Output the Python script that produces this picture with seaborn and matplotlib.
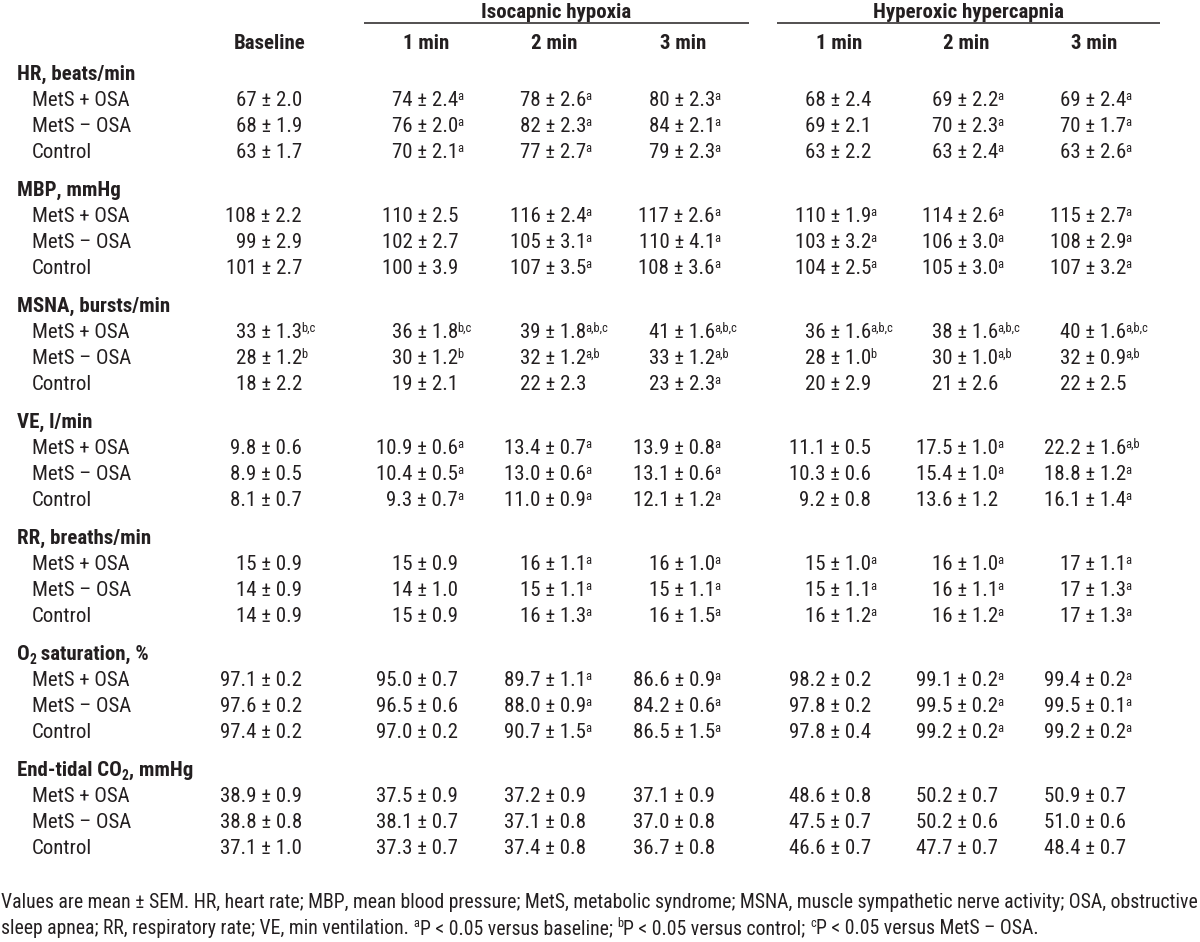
import matplotlib
matplotlib.use("Agg")
import matplotlib.pyplot as plt
import seaborn as sns
from matplotlib import font_manager

# column and row labels
group_labels = ["Isocapnic hypoxia", "Hyperoxic hypercapnia"]
group_cols = [(1, 3), (4, 6)]
col_labels = ["Baseline", "1 min", "2 min", "3 min", "1 min", "2 min", "3 min"]
row_labels = ["MetS + OSA", "MetS \u2013 OSA", "Control"]

# section titles: list of (text, is_subscript)
section_titles = [
    [("HR, beats/min", False)],
    [("MBP, mmHg", False)],
    [("MSNA, bursts/min", False)],
    [("VE, l/min", False)],
    [("RR, breaths/min", False)],
    [("O", False), ("2", True), (" saturation, %", False)],
    [("End-tidal CO", False), ("2", True), (", mmHg", False)],
]
section_decimals = [0, 0, 0, 1, 0, 1, 1]

hr_mean = [[67, 74, 78, 80, 68, 69, 69],
           [68, 76, 82, 84, 69, 70, 70],
           [63, 70, 77, 79, 63, 63, 63]]
hr_sem = [[2.0, 2.4, 2.6, 2.3, 2.4, 2.2, 2.4],
          [1.9, 2.0, 2.3, 2.1, 2.1, 2.3, 1.7],
          [1.7, 2.1, 2.7, 2.3, 2.2, 2.4, 2.6]]
hr_sig = [["", "a", "a", "a", "", "a", "a"],
          ["", "a", "a", "a", "", "a", "a"],
          ["", "a", "a", "a", "", "a", "a"]]

mbp_mean = [[108, 110, 116, 117, 110, 114, 115],
            [99, 102, 105, 110, 103, 106, 108],
            [101, 100, 107, 108, 104, 105, 107]]
mbp_sem = [[2.2, 2.5, 2.4, 2.6, 1.9, 2.6, 2.7],
           [2.9, 2.7, 3.1, 4.1, 3.2, 3.0, 2.9],
           [2.7, 3.9, 3.5, 3.6, 2.5, 3.0, 3.2]]
mbp_sig = [["", "", "a", "a", "a", "a", "a"],
           ["", "", "a", "a", "a", "a", "a"],
           ["", "", "a", "a", "a", "a", "a"]]

msna_mean = [[33, 36, 39, 41, 36, 38, 40],
             [28, 30, 32, 33, 28, 30, 32],
             [18, 19, 22, 23, 20, 21, 22]]
msna_sem = [[1.3, 1.8, 1.8, 1.6, 1.6, 1.6, 1.6],
            [1.2, 1.2, 1.2, 1.2, 1.0, 1.0, 0.9],
            [2.2, 2.1, 2.3, 2.3, 2.9, 2.6, 2.5]]
msna_sig = [["b,c", "b,c", "a,b,c", "a,b,c", "a,b,c", "a,b,c", "a,b,c"],
            ["b", "b", "a,b", "a,b", "b", "a,b", "a,b"],
            ["", "", "", "a", "", "", ""]]

ve_mean = [[9.8, 10.9, 13.4, 13.9, 11.1, 17.5, 22.2],
           [8.9, 10.4, 13.0, 13.1, 10.3, 15.4, 18.8],
           [8.1, 9.3, 11.0, 12.1, 9.2, 13.6, 16.1]]
ve_sem = [[0.6, 0.6, 0.7, 0.8, 0.5, 1.0, 1.6],
          [0.5, 0.5, 0.6, 0.6, 0.6, 1.0, 1.2],
          [0.7, 0.7, 0.9, 1.2, 0.8, 1.2, 1.4]]
ve_sig = [["", "a", "a", "a", "", "a", "a,b"],
          ["", "a", "a", "a", "", "a", "a"],
          ["", "a", "a", "a", "", "", "a"]]

rr_mean = [[15, 15, 16, 16, 15, 16, 17],
           [14, 14, 15, 15, 15, 16, 17],
           [14, 15, 16, 16, 16, 16, 17]]
rr_sem = [[0.9, 0.9, 1.1, 1.0, 1.0, 1.0, 1.1],
          [0.9, 1.0, 1.1, 1.1, 1.1, 1.1, 1.3],
          [0.9, 0.9, 1.3, 1.5, 1.2, 1.2, 1.3]]
rr_sig = [["", "", "a", "a", "a", "a", "a"],
          ["", "", "a", "a", "a", "a", "a"],
          ["", "", "a", "a", "a", "a", "a"]]

o2_mean = [[97.1, 95.0, 89.7, 86.6, 98.2, 99.1, 99.4],
           [97.6, 96.5, 88.0, 84.2, 97.8, 99.5, 99.5],
           [97.4, 97.0, 90.7, 86.5, 97.8, 99.2, 99.2]]
o2_sem = [[0.2, 0.7, 1.1, 0.9, 0.2, 0.2, 0.2],
          [0.2, 0.6, 0.9, 0.6, 0.2, 0.2, 0.1],
          [0.2, 0.2, 1.5, 1.5, 0.4, 0.2, 0.2]]
o2_sig = [["", "", "a", "a", "", "a", "a"],
          ["", "", "a", "a", "", "a", "a"],
          ["", "", "a", "a", "", "a", "a"]]

co2_mean = [[38.9, 37.5, 37.2, 37.1, 48.6, 50.2, 50.9],
            [38.8, 38.1, 37.1, 37.0, 47.5, 50.2, 51.0],
            [37.1, 37.3, 37.4, 36.7, 46.6, 47.7, 48.4]]
co2_sem = [[0.9, 0.9, 0.9, 0.9, 0.8, 0.7, 0.7],
           [0.8, 0.7, 0.8, 0.8, 0.7, 0.6, 0.6],
           [1.0, 0.7, 0.8, 0.8, 0.7, 0.7, 0.7]]
co2_sig = [["", "", "", "", "", "", ""],
           ["", "", "", "", "", "", ""],
           ["", "", "", "", "", "", ""]]

section_means = [hr_mean, mbp_mean, msna_mean, ve_mean, rr_mean, o2_mean, co2_mean]
section_sems = [hr_sem, mbp_sem, msna_sem, ve_sem, rr_sem, o2_sem, co2_sem]
section_sigs = [hr_sig, mbp_sig, msna_sig, ve_sig, rr_sig, o2_sig, co2_sig]

footnote_1 = ("Values are mean \u00b1 SEM. HR, heart rate; MBP, mean blood pressure; MetS, "
              "metabolic syndrome; MSNA, muscle sympathetic nerve activity; OSA, obstructive")
footnote_2 = [("sleep apnea; RR, respiratory rate; VE, min ventilation.", ""),
              ("P < 0.05 versus baseline;", "a"),
              ("P < 0.05 versus control;", "b"),
              ("P < 0.05 versus MetS \u2013 OSA.", "c")]

# layout (pixels)
col_right = [302, 458, 586, 715, 871, 998, 1126]
INK = "#231f20"

sns.set_theme(style="white")

# prefer a narrow sans face like the original, else fall back to Liberation Sans
entries = font_manager.fontManager.ttflist
names = {f.name for f in entries}
narrow = None
for cand in ["Liberation Sans Narrow", "Arial Narrow", "Roboto Condensed",
             "Open Sans Condensed", "Noto Sans Condensed"]:
    if cand in names:
        narrow = cand
        break
if narrow is None:
    for f in entries:
        if any(k in f.name for k in ("Narrow", "Condensed")) and "Serif" not in f.name \
                and "Mono" not in f.name:
            narrow = f.name
            break
if narrow:
    fams = [narrow, "Liberation Sans", "DejaVu Sans"]
    TS = 15
else:
    fams = ["Liberation Sans", "DejaVu Sans"]
    TS = 13.5
SUP = TS * 0.6
plt.rcParams["font.family"] = fams

fig = plt.figure(figsize=(12, 9.42), dpi=100)
ax = fig.add_axes([0, 0, 1, 1])
ax.set_xlim(0, 1200)
ax.set_ylim(942, 0)
ax.set_axis_off()
r = fig.canvas.get_renderer()


def width(t):
    return t.get_window_extent(r).width


def put(x, y, s, size=None, weight="normal", ha="left"):
    return ax.text(x, y, s, fontsize=size or TS, fontweight=weight, ha=ha,
                   va="baseline", color=INK)


# group headers and underlines
for lab, (c0, c1) in zip(group_labels, group_cols):
    x0 = col_right[c0] - 94
    x1 = col_right[c1] + 34
    put((x0 + x1) / 2, 18, lab, weight="bold", ha="center")
    ax.plot([x0, x1], [23, 23], color=INK, lw=1.1, solid_capstyle="butt")

# column headers
for c, lab in enumerate(col_labels):
    put(col_right[c] - 32, 49, lab, weight="bold", ha="center")

# body
y0 = 73
for s, title in enumerate(section_titles):
    ys = y0 + s * 116
    x = 17
    for txt, sub in title:
        t = put(x, ys + 7 + (4 if sub else 0), txt, size=(TS * 0.65 if sub else TS),
                weight="bold")
        x += width(t)
    for i, lab in enumerate(row_labels):
        yb = ys + 26 * (i + 1) + 7
        put(32, yb, lab)
        for c in range(len(col_labels)):
            m = section_means[s][i][c]
            sd = section_sems[s][i][c]
            d = section_decimals[s]
            put(col_right[c], yb, f"{m:.{d}f} \u00b1 {sd:.1f}", ha="right")
            if section_sigs[s][i][c]:
                put(col_right[c] - 1, yb - 6.5, section_sigs[s][i][c], size=SUP)

# footnote, sized to fill the width
f1 = put(1, 908, footnote_1, size=13)
fs = 13 * 1197 / width(f1)
f1.set_fontsize(fs)
x = 1
gap = fs * 100 / 72 * 0.24
for txt, sup in footnote_2:
    if sup:
        x += gap
        t = put(x, 927, sup, size=fs * 0.62)
        x += width(t)
    t = put(x, 934, txt, size=fs)
    x += width(t)

fig.savefig("out.png", dpi=100)
